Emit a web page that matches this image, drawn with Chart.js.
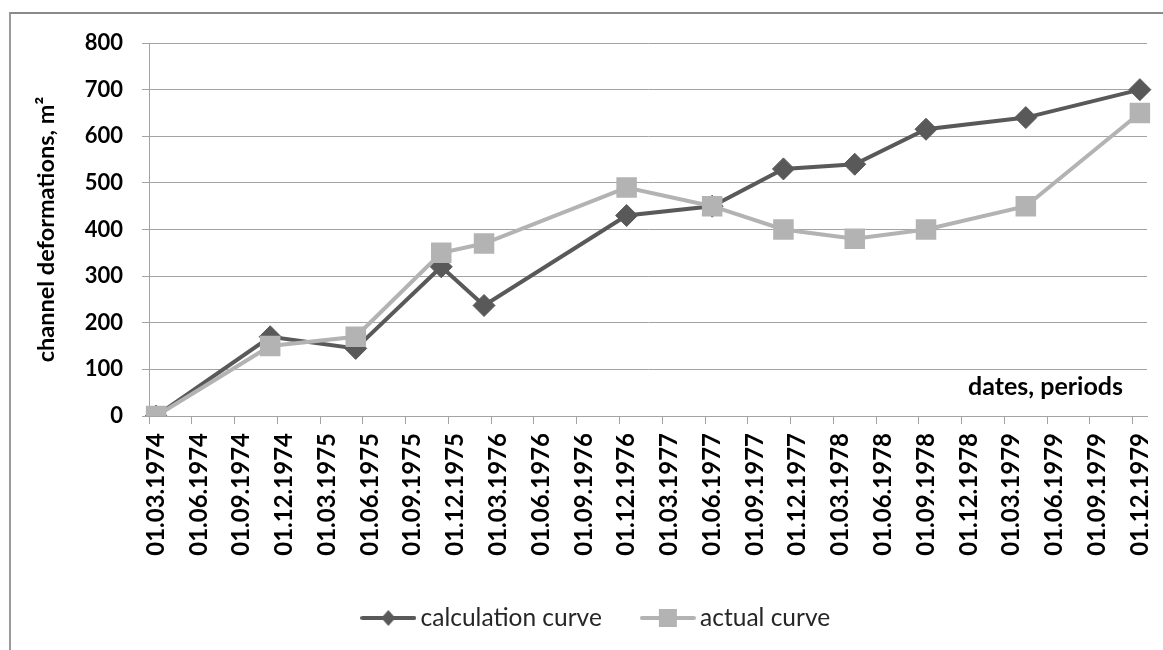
<!DOCTYPE html>
<html><head><meta charset="utf-8">
<script src="https://cdn.jsdelivr.net/npm/chart.js@4.4.0/dist/chart.umd.min.js"></script>
<style>
html,body{margin:0;padding:0;background:#fff;overflow:hidden;}
#frame{position:absolute;left:9px;top:12px;width:1400px;height:900px;border-left:2px solid #9a9a9a;border-top:2px solid #8a8a8a;}
#wrap{position:absolute;left:0;top:0;width:1163px;height:650px;}
</style></head><body>
<div id="frame"></div>
<div id="wrap"><canvas id="c" width="1163" height="650"></canvas></div>
<script>
// ---- data ----
const firstSlot = [3, 1974];   // month, year of first axis slot
const lastSlot = [12, 1979];   // month, year of last axis slot
const pointDates = ['01.03.1974','01.11.1974','01.05.1975','01.11.1975','01.02.1976','01.12.1976','01.06.1977','01.11.1977','01.04.1978','01.09.1978','01.04.1979','01.12.1979'];
const calcValues = [0, 170, 145, 320, 237, 430, 450, 530, 540, 615, 640, 700];
const actualValues = [0, 150, 170, 350, 370, 490, 450, 400, 380, 400, 450, 650];
const seriesNames = ['calculation curve', 'actual curve'];
const yTitle = 'channel deformations, m\u00B2';
const xNote = 'dates, periods';

// monthly axis slots
const slots = [];
{
  let m = firstSlot[0], y = firstSlot[1];
  while (y < lastSlot[1] || (y === lastSlot[1] && m <= lastSlot[0])) {
    slots.push('01.' + String(m).padStart(2, '0') + '.' + y);
    m++; if (m > 12) { m = 1; y++; }
  }
}

const CALC = '#595959', ACT = '#b3b3b3', GRID = '#a3a3a3';
const FONT = 'Lato';

function legendIcon(color, style) {
  const c = document.createElement('canvas');
  c.width = 56; c.height = 22;
  const g = c.getContext('2d');
  g.strokeStyle = color; g.lineWidth = 4; g.lineCap = 'round';
  g.beginPath(); g.moveTo(2, 11); g.lineTo(54, 11); g.stroke();
  g.fillStyle = color;
  if (style === 'diamond') {
    g.beginPath(); g.moveTo(28 - 7, 11); g.lineTo(28, 11 - 8); g.lineTo(28 + 7, 11); g.lineTo(28, 11 + 8); g.closePath(); g.fill();
  } else {
    g.fillRect(28 - 9, 11 - 9, 18, 18);
  }
  return c;
}
const icons = [legendIcon(CALC, 'diamond'), legendIcon(ACT, 'square')];

const notePlugin = {
  id: 'xNote',
  afterDatasetsDraw(chart) {
    const {ctx, chartArea} = chart;
    ctx.save();
    ctx.font = 'bold 25px ' + FONT;
    ctx.fillStyle = '#000';
    ctx.textAlign = 'right';
    ctx.textBaseline = 'middle';
    ctx.fillText(xNote, chartArea.right - 24, chartArea.bottom - 29);
    ctx.restore();
  }
};

new Chart(document.getElementById('c'), {
  type: 'line',
  data: {
    labels: slots,
    datasets: [
      {
        label: seriesNames[0],
        data: pointDates.map((d, i) => ({x: d, y: calcValues[i]})),
        borderColor: CALC, backgroundColor: CALC, borderWidth: 4,
        pointStyle: 'rectRot', pointRadius: 11, pointBorderWidth: 1,
        pointBackgroundColor: CALC, pointBorderColor: CALC,
        tension: 0, order: 1
      },
      {
        label: seriesNames[1],
        data: pointDates.map((d, i) => ({x: d, y: actualValues[i]})),
        borderColor: ACT, backgroundColor: ACT, borderWidth: 4,
        pointStyle: 'rect', pointRadius: 14.5, pointBorderWidth: 0,
        pointBackgroundColor: ACT, pointBorderColor: ACT,
        tension: 0, order: 0
      }
    ]
  },
  options: {
    responsive: false,
    animation: false,
    devicePixelRatio: 1,
    layout: {padding: {left: 51.5, right: 16, top: 43, bottom: 9.75}},
    plugins: {
      tooltip: {enabled: false},
      legend: {
        position: 'bottom',
        labels: {
          usePointStyle: true,
          pointStyleWidth: 40,
          padding: 46,
          color: '#262626',
          font: {family: FONT, size: 24.5},
          generateLabels(chart) {
            const items = Chart.defaults.plugins.legend.labels.generateLabels(chart);
            items.sort((a, b) => a.datasetIndex - b.datasetIndex);
            items.forEach(it => { it.pointStyle = icons[it.datasetIndex]; it.lineWidth = 0; });
            return items;
          }
        }
      }
    },
    scales: {
      x: {
        type: 'category',
        offset: true,
        afterFit(s) { s.height = 143.75; s.paddingLeft = 0; s.paddingRight = 0; },
        grid: {
          offset: true,
          drawOnChartArea: false,
          tickLength: 8,
          color: ctx => (ctx.index !== undefined && ctx.index % 3 === 0) ? GRID : 'rgba(0,0,0,0)'
        },
        border: {display: true, color: GRID, width: 1},
        ticks: {
          autoSkip: false,
          minRotation: 90, maxRotation: 90,
          padding: 9,
          color: '#000',
          font: {family: FONT, size: 24, weight: 'bold'},
          callback(value, index) { return index % 3 === 0 ? this.getLabelForValue(value) : ''; }
        }
      },
      y: {
        min: 0, max: 800,
        afterFit(s) { s.width = 97.5; },
        grid: {color: GRID, tickLength: 7, lineWidth: 1},
        border: {display: true, color: GRID, width: 1},
        ticks: {
          stepSize: 100,
          padding: 19,
          color: '#000',
          font: {family: FONT, size: 22, weight: 'bold'}
        },
        title: {
          display: true,
          text: yTitle,
          color: '#000',
          padding: {top: -19.6, bottom: 0},
          font: {family: FONT, size: 23.5, weight: 'bold'}
        }
      }
    }
  },
  plugins: [notePlugin]
});
</script>
</body></html>
